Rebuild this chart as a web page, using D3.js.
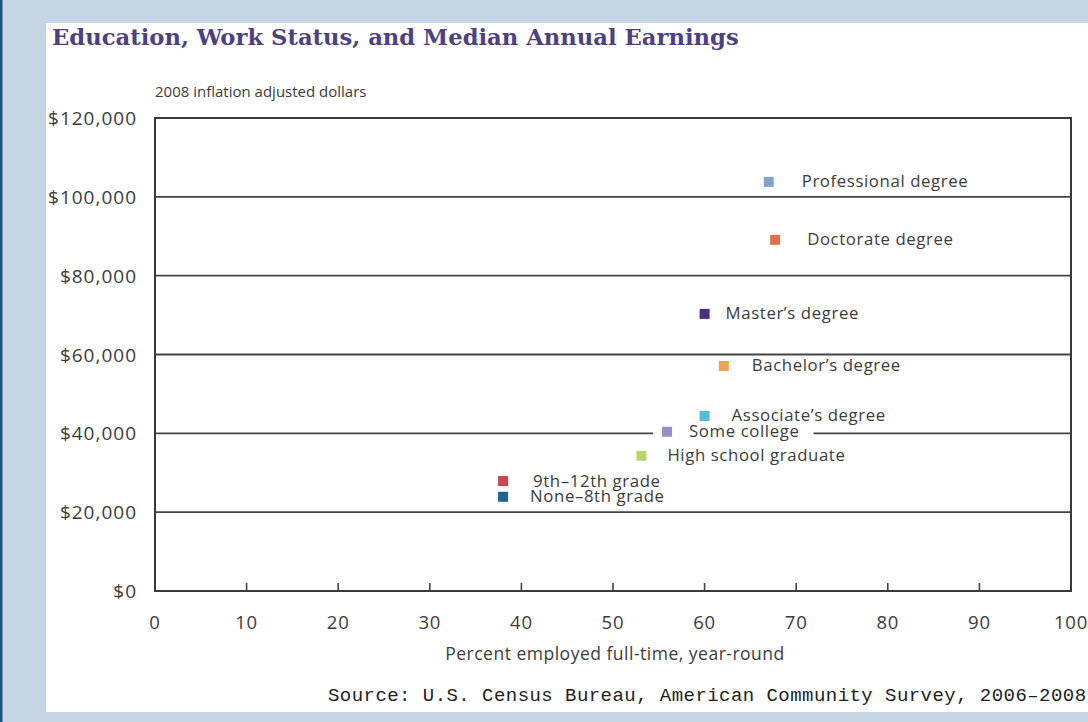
<!DOCTYPE html>
<html><head><meta charset="utf-8">
<script src="https://cdn.jsdelivr.net/npm/d3@7"></script>
<style>html,body{margin:0;padding:0;background:#c5d5e3;}svg{display:block;}</style>
</head><body>
<svg id="c" width="1088" height="722"></svg>
<script>
// ---- data ----
const categories = ["Professional degree","Doctorate degree","Master\u2019s degree","Bachelor\u2019s degree","Associate\u2019s degree","Some college","High school graduate","9th\u201312th grade","None\u20138th grade"];
const pctFullTime = [67.0, 67.7, 60.0, 62.1, 60.0, 55.9, 53.1, 38.0, 38.0];
const medianEarnings = [103800, 89100, 70300, 57100, 44400, 40400, 34300, 27900, 23900];
const colors = ["#7fa4c8","#e0704a","#4c2f80","#eca352","#52bdd5","#9d8bc6","#bad46c","#c8464f","#1e6691"];
const xTicks = [0,10,20,30,40,50,60,70,80,90,100];
const yTicks = [0,20000,40000,60000,80000,100000,120000];
const yTickLabels = ["$0","$20,000","$40,000","$60,000","$80,000","$100,000","$120,000"];

// ---- layout ----
const svg = d3.select("#c");
const W = 1088, H = 722;
const x = d3.scaleLinear().domain([0,100]).range([155,1071]);
const y = d3.scaleLinear().domain([0,120000]).range([591,118]);
const labelDx = [33,32,21,28,27,22,26,30,27];
const labelBg = [false,false,false,false,false,true,false,false,false];
const txt = "#3c3c3c";
const sans = "'Open Sans', sans-serif";

// background + panel
svg.append("rect").attr("width",W).attr("height",H).attr("fill","#c5d5e3");
svg.append("rect").attr("x",0).attr("y",0).attr("width",2.5).attr("height",H).attr("fill","#1c4f82");
svg.append("rect").attr("x",46).attr("y",23).attr("width",W-46).attr("height",712-23).attr("fill","#ffffff");

// title
svg.append("text").attr("x",52).attr("y",45)
  .attr("font-family","'DejaVu Serif', serif").attr("font-weight","bold").attr("font-size",22.7)
  .attr("fill","#4e4183").text("Education, Work Status, and Median Annual Earnings");

svg.append("text").attr("x",155).attr("y",97)
  .attr("font-family",sans).attr("font-size",15).attr("fill",txt)
  .text("2008 inflation adjusted dollars");

// gridlines
const g = svg.append("g");
g.selectAll("line.grid").data(yTicks.slice(1,-1)).join("line")
  .attr("x1",x(0)).attr("x2",x(100)).attr("y1",d=>y(d)).attr("y2",d=>y(d))
  .attr("stroke","#444").attr("stroke-width",1.8);

// x ticks (inward)
g.selectAll("line.xt").data(xTicks.slice(1,-1)).join("line")
  .attr("x1",d=>x(d)).attr("x2",d=>x(d)).attr("y1",y(0)).attr("y2",y(0)-8)
  .attr("stroke","#444").attr("stroke-width",1.6);

// box
g.append("rect").attr("x",x(0)).attr("y",y(120000)).attr("width",x(100)-x(0)).attr("height",y(0)-y(120000))
  .attr("fill","none").attr("stroke","#3a3a3a").attr("stroke-width",2);

// y tick labels
svg.selectAll("text.yl").data(yTicks).join("text")
  .attr("x",137).attr("y",d=>y(d)+7).attr("text-anchor","end")
  .attr("font-family",sans).attr("font-size",19).attr("letter-spacing",1).attr("fill",txt)
  .text((d,i)=>yTickLabels[i]);

// x tick labels
svg.selectAll("text.xl").data(xTicks).join("text")
  .attr("x",d=>x(d)).attr("y",629).attr("text-anchor","middle")
  .attr("font-family",sans).attr("font-size",18.5).attr("letter-spacing",0.8).attr("fill",txt)
  .text(d=>d);

svg.append("text").attr("x",615).attr("y",660).attr("text-anchor","middle")
  .attr("font-family",sans).attr("font-size",17.5).attr("letter-spacing",0.5).attr("fill",txt)
  .text("Percent employed full-time, year-round");

svg.append("text").attr("x",328).attr("y",701)
  .attr("font-family","'Liberation Mono', monospace").attr("font-size",19).attr("letter-spacing",0.45).attr("fill","#222")
  .text("Source: U.S. Census Bureau, American Community Survey, 2006\u20132008");

// points + labels
const pts = svg.append("g");
categories.forEach((c,i)=>{
  const px = x(pctFullTime[i]), py = y(medianEarnings[i]);
  const t = pts.append("text").attr("x",px+labelDx[i]).attr("y",py+5.5)
    .attr("font-family",sans).attr("font-size",16.8).attr("letter-spacing",0.6).attr("fill",txt).text(c);
  if (labelBg[i]) {
    const bb = t.node().getBBox();
    pts.insert("rect","text").attr("x",px-14).attr("y",bb.y+3).attr("width",bb.x+bb.width+14-(px-14)).attr("height",bb.height-6).attr("fill","#fff");
  }
  pts.append("rect").attr("x",px-5).attr("y",py-5).attr("width",10).attr("height",10).attr("fill",colors[i]);
});
</script>
</body></html>
